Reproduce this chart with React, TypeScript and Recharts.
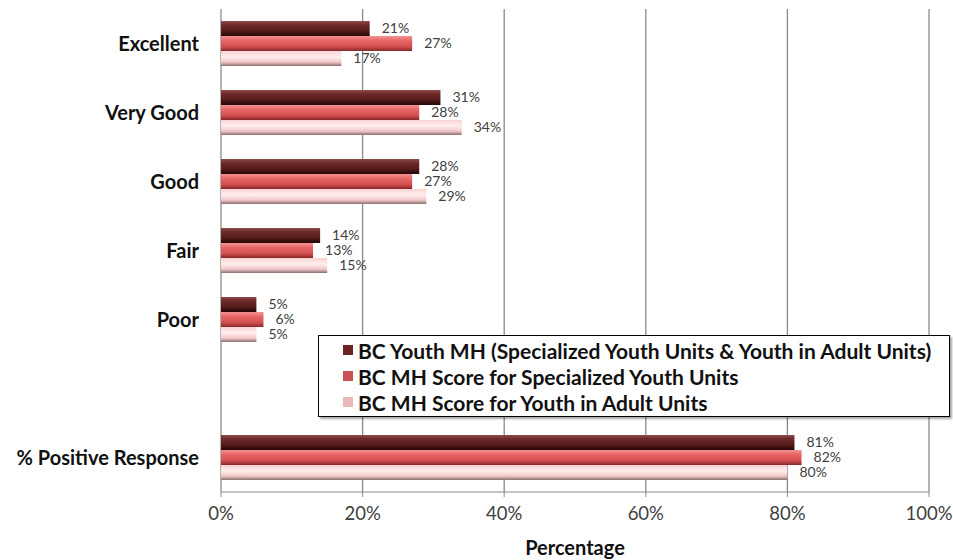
import React from "react";
import { BarChart, Bar, XAxis, YAxis, CartesianGrid, Legend, LabelList } from "recharts";

const categories = ["Excellent", "Very Good", "Good", "Fair", "Poor", "", "% Positive Response"];
const youthAll = [21, 31, 28, 14, 5, null, 81];
const youthSpecialized = [27, 28, 27, 13, 6, null, 82];
const youthInAdult = [17, 34, 29, 15, 5, null, 80];
const xTicks = [0, 20, 40, 60, 80, 100];
const boundaryTicks = [0, 1, 2, 3, 4, 5, 6, 7];

const series = [
  { key: "all", name: "BC Youth MH (Specialized Youth Units & Youth in Adult Units)", swatch: "#6b2424", fill: "url(#gAll)" },
  { key: "spec", name: "BC MH Score for Specialized Youth Units", swatch: "#c85252", fill: "url(#gSpec)" },
  { key: "adult", name: "BC MH Score for Youth in Adult Units", swatch: "#e9b9b9", fill: "url(#gAdult)" },
];

const data = categories.map((c, i) => ({
  name: c,
  all: youthAll[i],
  spec: youthSpecialized[i],
  adult: youthInAdult[i],
}));

const fmt = (v: any) => (v == null ? "" : `${v}%`);

function LegendBox() {
  return (
    <div
      style={{
        border: "1.5px solid #000",
        background: "#fff",
        boxShadow: "2px 2px 2px rgba(0,0,0,0.35)",
        padding: "1px 0 1px 24px",
        boxSizing: "border-box",
        width: 632,
      }}
    >
      {series.map((s) => (
        <div key={s.key} style={{ display: "flex", alignItems: "center", height: 26 }}>
          <span style={{ width: 10, height: 10, background: s.swatch, marginRight: 5, display: "inline-block", flex: "none" }} />
          <span style={{ fontSize: 21, fontWeight: 700, color: "#111", whiteSpace: "nowrap" }}>{s.name}</span>
        </div>
      ))}
    </div>
  );
}

export default function App() {
  return (
    <div style={{ position: "absolute", left: 0, top: 0, fontFamily: "Lato, sans-serif", background: "#fff" }}>
      <BarChart width={953} height={560} data={data} layout="vertical" margin={{ top: 9, right: 24, bottom: 0, left: 0 }} barGap={0}>
        <defs>
          <linearGradient id="gAll" x1="0" y1="0" x2="0" y2="1">
            <stop offset="0%" stopColor="#8e4c4c" />
            <stop offset="25%" stopColor="#6f2b2b" />
            <stop offset="65%" stopColor="#571b1b" />
            <stop offset="100%" stopColor="#260606" />
          </linearGradient>
          <linearGradient id="gSpec" x1="0" y1="0" x2="0" y2="1">
            <stop offset="0%" stopColor="#f29494" />
            <stop offset="30%" stopColor="#e96666" />
            <stop offset="70%" stopColor="#d25050" />
            <stop offset="100%" stopColor="#862828" />
          </linearGradient>
          <linearGradient id="gAdult" x1="0" y1="0" x2="0" y2="1">
            <stop offset="0%" stopColor="#f8d2d2" />
            <stop offset="40%" stopColor="#ffeeee" />
            <stop offset="75%" stopColor="#efc6c6" />
            <stop offset="100%" stopColor="#8a6e6e" />
          </linearGradient>
        </defs>
        <CartesianGrid horizontal={false} stroke="#8a8a8a" strokeWidth={1.3} yAxisId="grid" />
        <XAxis
          type="number"
          domain={[0, 100]}
          ticks={xTicks}
          tickFormatter={(v) => `${v}%`}
          height={68}
          stroke="#8a8a8a"
          tickSize={5}
          tickMargin={10}
          tick={{ fill: "#404040", fontSize: 18.5 }}
          label={{ value: "Percentage", position: "insideBottom", offset: 5, fill: "#111", fontSize: 20, fontWeight: 700 }}
        />
        <YAxis
          yAxisId="grid"
          type="number"
          domain={[0, 7]}
          ticks={boundaryTicks}
          width={0}
          tickFormatter={() => ""}
          tick={{ fill: "none" }}
          tickSize={5}
          stroke="#8a8a8a"
        />
        <YAxis
          type="category"
          dataKey="name"
          width={221}
          axisLine={false}
          tickLine={false}
          tickSize={0}
          tickMargin={22}
          interval={0}
          tick={{ fill: "#111", fontSize: 20, fontWeight: 700 }}
        />
        <Legend
          layout="horizontal"
          align="center"
          verticalAlign="middle"
          wrapperStyle={{ left: 318, top: 335, width: 632 }}
          content={() => <LegendBox />}
        />
        {series.map((s) => (
          <Bar key={s.key} dataKey={s.key} name={s.name} fill={s.fill} barSize={15} isAnimationActive={false}>
            <LabelList dataKey={s.key} position="right" offset={12} formatter={fmt} fill="#404040" fontSize={14} />
          </Bar>
        ))}
      </BarChart>
    </div>
  );
}
